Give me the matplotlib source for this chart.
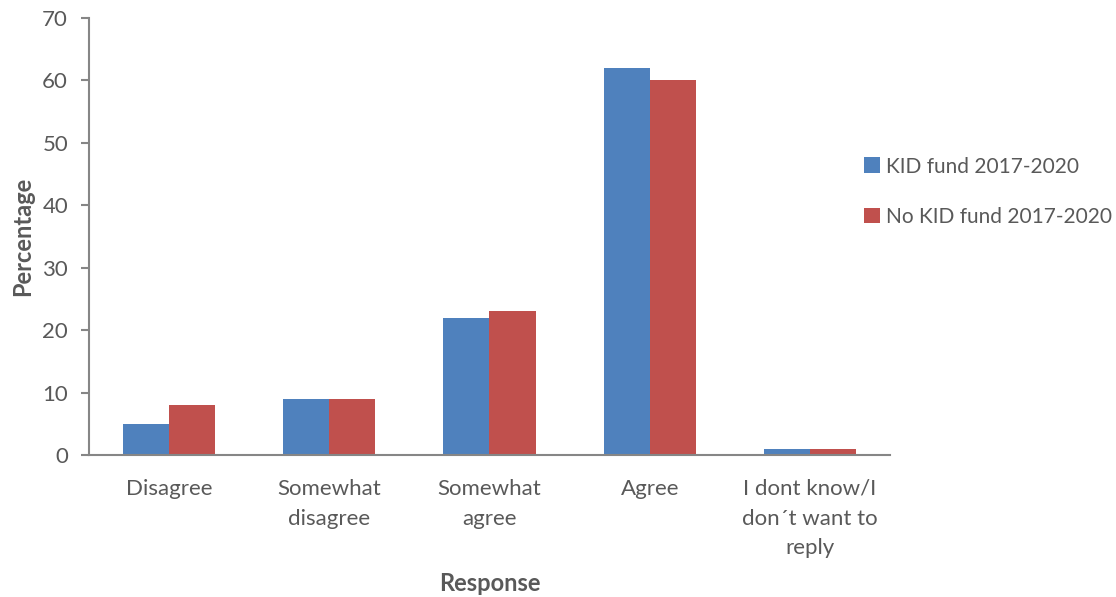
import matplotlib

matplotlib.use("Agg")
import matplotlib.pyplot as plt
import numpy as np

categories = ["Disagree", "Somewhat\ndisagree", "Somewhat\nagree", "Agree",
              "I dont know/I\ndon\u00b4t want to\nreply"]
kid_fund = [5, 9, 22, 62, 1]
no_kid_fund = [8, 9, 23, 60, 1]
series_names = ["KID fund 2017-2020", "No KID fund 2017-2020"]

BLUE, RED = "#4F81BD", "#C0504D"
TEXT = "#595959"
AXIS = "#868686"

plt.rcParams.update({
    "font.family": ["Lato", "DejaVu Sans"],
    "font.size": 16,
    "text.color": TEXT,
    "axes.labelcolor": TEXT,
    "xtick.color": TEXT,
    "ytick.color": TEXT,
})

fig = plt.figure(figsize=(11.16, 5.97), dpi=100)
ax = fig.add_axes([0.0797, 0.2379, 0.7178, 0.7319])

x = np.arange(len(categories))
w = 0.2875
ax.bar(x - w / 2, kid_fund, w, color=BLUE, label=series_names[0])
ax.bar(x + w / 2, no_kid_fund, w, color=RED, label=series_names[1])

ax.set_xlim(-0.5, len(categories) - 0.5)
ax.set_ylim(0, 70)
ax.set_yticks(range(0, 71, 10))
ax.set_xticks(x)
ax.set_xticklabels(categories, linespacing=1.62)
ax.tick_params(axis="x", length=0, pad=17, labelsize=16)
ax.tick_params(axis="y", length=6, width=1.5, color=AXIS, pad=9, labelsize=16)

for side in ["top", "right"]:
    ax.spines[side].set_visible(False)
for side in ["left", "bottom"]:
    ax.spines[side].set_color(AXIS)
    ax.spines[side].set_linewidth(1.5)

ax.set_ylabel("Percentage", fontweight="bold", fontsize=17, labelpad=6)
ax.set_xlabel("Response", fontweight="bold", fontsize=17, labelpad=10)

ax.legend(loc="center left", bbox_to_anchor=(0.757, 0.679),
          bbox_transform=fig.transFigure, frameon=False,
          handlelength=0.8, handleheight=0.8, handletextpad=0.3,
          labelspacing=1.45, fontsize=15)

fig.savefig("out.png", dpi=100)
